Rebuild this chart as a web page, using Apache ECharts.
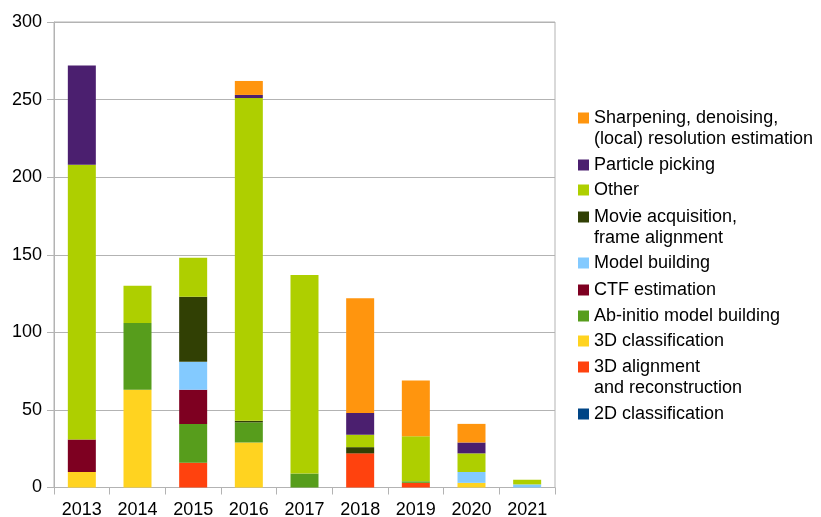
<!DOCTYPE html>
<html>
<head>
<meta charset="utf-8">
<script src="https://cdn.jsdelivr.net/npm/echarts@6/dist/echarts.min.js"></script>
<style>html,body{margin:0;padding:0;background:#fff;}#c{width:821px;height:517px;}</style>
</head>
<body>
<div id="c"></div>
<script>
const years = ['2013','2014','2015','2016','2017','2018','2019','2020','2021'];
const yTicks = [0, 50, 100, 150, 200, 250, 300];

// stacked bottom -> top
const classification2D   = [0, 0, 0, 0, 0, 0, 0, 0, 0];
const alignment3D        = [0, 0, 16, 0, 0, 22, 3, 0, 0];
const classification3D   = [10, 63, 0, 29, 0, 0, 0, 3, 0];
const abInitio           = [0, 43, 25, 13, 9, 0, 1, 0, 0];
const ctfEstimation      = [21, 0, 22, 0, 0, 0, 0, 0, 0];
const modelBuilding      = [0, 0, 18, 0, 0, 0, 0, 7, 2];
const movieAcquisition   = [0, 0, 42, 1, 0, 4, 0, 0, 0];
const other              = [177, 24, 25, 208, 128, 8, 29, 12, 3];
const particlePicking    = [64, 0, 0, 2, 0, 14, 0, 7, 0];
const sharpening         = [0, 0, 0, 9, 0, 74, 36, 12, 0];

const seriesDefs = [
  {name: '2D classification', data: classification2D, color: '#004586'},
  {name: '3D alignment\nand reconstruction', data: alignment3D, color: '#ff420e'},
  {name: '3D classification', data: classification3D, color: '#ffd320'},
  {name: 'Ab-initio model building', data: abInitio, color: '#579d1c'},
  {name: 'CTF estimation', data: ctfEstimation, color: '#7e0021'},
  {name: 'Model building', data: modelBuilding, color: '#83caff'},
  {name: 'Movie acquisition,\nframe alignment', data: movieAcquisition, color: '#314004'},
  {name: 'Other', data: other, color: '#aecf00'},
  {name: 'Particle picking', data: particlePicking, color: '#4b1f6f'},
  {name: 'Sharpening, denoising,\n(local) resolution estimation', data: sharpening, color: '#ff950e'}
];

// icon centre y for each legend entry (top to bottom order = reversed stack)
const legendCenters = [118, 165, 190, 217, 263, 290, 316, 341, 367, 414];

const font = 'Liberation Sans, Arial, sans-serif';
const LH = 21;
const legendOrder = seriesDefs.slice().reverse();
const legends = legendOrder.map((s, i) => {
  const twoLine = s.name.indexOf('\n') >= 0;
  const ih = twoLine ? 11 + LH : 11;
  return {
    orient: 'vertical',
    left: 578,
    top: legendCenters[i] - 10.5,
    padding: 0,
    itemWidth: 11,
    itemHeight: ih,
    selectedMode: false,
    icon: twoLine ? 'path://M0,0h11v11h-11z M0,' + (ih - 0.05) + 'h0.05v0.05h-0.05z' : 'rect',
    itemStyle: {borderWidth: 0},
    textStyle: {fontSize: 18, lineHeight: LH, color: '#000', fontFamily: font},
    data: [{name: s.name}]
  };
});

const chart = echarts.init(document.getElementById('c'));
chart.setOption({
  animation: false,
  backgroundColor: '#fff',
  grid: {left: 54, right: 266, top: 22, bottom: 29.5, show: true, borderColor: '#b3b3b3', borderWidth: 1,
    outerBoundsMode: 'none', containLabel: false},
  legend: legends,
  xAxis: {
    type: 'category',
    data: years,
    axisLine: {lineStyle: {color: '#b3b3b3', width: 1}},
    axisTick: {show: true, length: 7, lineStyle: {color: '#b3b3b3'}},
    axisLabel: {fontSize: 18, color: '#000', fontFamily: font, margin: 14}
  },
  yAxis: {
    type: 'value',
    min: yTicks[0],
    max: yTicks[yTicks.length - 1],
    interval: 50,
    axisLine: {show: true, lineStyle: {color: '#b3b3b3', width: 1}},
    axisTick: {show: true, length: 7, lineStyle: {color: '#b3b3b3'}},
    axisLabel: {fontSize: 18, color: '#000', fontFamily: font, margin: 12},
    splitLine: {lineStyle: {color: '#b3b3b3', width: 1}}
  },
  series: seriesDefs.map(s => ({
    name: s.name,
    type: 'bar',
    stack: 'total',
    barWidth: 28,
    data: s.data,
    itemStyle: {color: s.color}
  }))
});
</script>
</body>
</html>
